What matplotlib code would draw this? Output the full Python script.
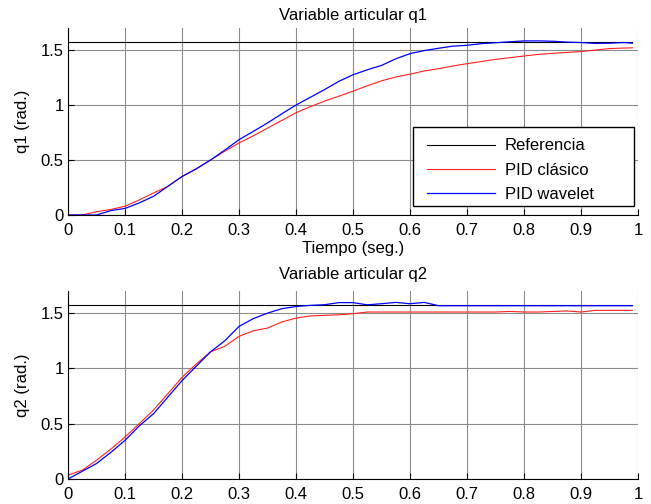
import numpy as np
import matplotlib
matplotlib.use('Agg')
import matplotlib.pyplot as plt
from matplotlib.patches import Rectangle

# Tiempo de muestreo (seg.)
t = [0.0, 0.025, 0.05, 0.075, 0.1, 0.125, 0.15, 0.175, 0.2, 0.225,
     0.25, 0.275, 0.3, 0.325, 0.35, 0.375, 0.4, 0.425, 0.45, 0.475,
     0.5, 0.525, 0.55, 0.575, 0.6, 0.625, 0.65, 0.675, 0.7, 0.725,
     0.75, 0.775, 0.8, 0.825, 0.85, 0.875, 0.9, 0.925, 0.95, 0.975, 0.99]

referencia = 1.5708

# q1
q1_clasico = [0.0, 0.0, 0.03, 0.05, 0.08, 0.137, 0.20, 0.26, 0.35, 0.42,
              0.50, 0.58, 0.655, 0.72, 0.79, 0.86, 0.93, 0.985, 1.035, 1.08,
              1.126, 1.175, 1.22, 1.255, 1.28, 1.31, 1.33, 1.355, 1.376, 1.395,
              1.415, 1.43, 1.446, 1.46, 1.47, 1.478, 1.486, 1.50, 1.513, 1.518, 1.52]
q1_wavelet = [0.0, 0.0, 0.0, 0.04, 0.06, 0.11, 0.17, 0.26, 0.35, 0.42,
              0.50, 0.59, 0.685, 0.76, 0.837, 0.92, 1.0, 1.07, 1.14, 1.215,
              1.275, 1.32, 1.36, 1.42, 1.467, 1.495, 1.516, 1.535, 1.543, 1.558,
              1.566, 1.575, 1.583, 1.583, 1.58, 1.572, 1.568, 1.56, 1.562, 1.568, 1.562]

# q2
q2_clasico = [0.036, 0.08, 0.17, 0.27, 0.38, 0.50, 0.625, 0.77, 0.92, 1.04,
              1.15, 1.20, 1.29, 1.34, 1.365, 1.42, 1.455, 1.475, 1.48, 1.485,
              1.495, 1.51, 1.51, 1.51, 1.51, 1.51, 1.51, 1.51, 1.51, 1.51,
              1.51, 1.515, 1.51, 1.51, 1.515, 1.52, 1.51, 1.525, 1.525, 1.525, 1.525]
q2_wavelet = [0.0, 0.07, 0.14, 0.24, 0.35, 0.48, 0.59, 0.74, 0.89, 1.02,
              1.15, 1.25, 1.38, 1.45, 1.50, 1.54, 1.56, 1.57, 1.576, 1.595,
              1.595, 1.575, 1.585, 1.597, 1.585, 1.597, 1.567, 1.567, 1.567, 1.567,
              1.567, 1.567, 1.567, 1.567, 1.567, 1.567, 1.567, 1.567, 1.567, 1.567, 1.567]

plt.rcParams['font.family'] = ['Liberation Sans', 'DejaVu Sans']
plt.rcParams['font.size'] = 12

fig = plt.figure(figsize=(6.51, 5.04), dpi=100)
ax1 = fig.add_axes([0.1045, 0.5734, 0.8756, 0.371])
ax2 = fig.add_axes([0.1045, 0.0496, 0.8756, 0.373])


def estilo(ax, titulo, ylabel, tpad):
    ax.set_xlim(0, 1)
    ax.set_ylim(0, 1.7)
    ax.set_xticks(np.arange(0, 1.01, 0.1))
    ax.set_xticklabels(['0', '0.1', '0.2', '0.3', '0.4', '0.5', '0.6', '0.7', '0.8', '0.9', '1'])
    ax.set_yticks([0, 0.5, 1, 1.5])
    ax.set_yticklabels(['0', '0.5', '1', '1.5'])
    ax.grid(True, color='#8c8c8c', linewidth=0.8)
    ax.set_axisbelow(True)
    ax.spines['top'].set_visible(False)
    ax.spines['right'].set_visible(False)
    ax.tick_params(direction='in', length=4, width=0.8, labelsize=12)
    ax.tick_params(axis='x', pad=6)
    ax.tick_params(axis='y', pad=3)
    ax.set_title(titulo, fontsize=12, pad=tpad)
    ax.set_ylabel(ylabel, fontsize=12, labelpad=8)


ref = [referencia] * len(t)

ax1.plot(t, ref, color='black', linewidth=0.8, label='Referencia')
ax1.plot(t, q1_clasico, color='#ff2020', linewidth=0.8, label='PID clásico')
ax1.plot(t, q1_wavelet, color='#0000ff', linewidth=0.9, label='PID wavelet')
estilo(ax1, 'Variable articular q1', 'q1 (rad.)', 6)
ax1.set_xlabel('Tiempo (seg.)', fontsize=12, labelpad=2)

# marco de la leyenda (estilo Matlab, más ancho que el texto)
marco = Rectangle((0.605, 0.048), 0.388, 0.422, transform=ax1.transAxes,
                  facecolor='white', edgecolor='black', linewidth=1.0, zorder=4.5)
ax1.add_patch(marco)
leg = ax1.legend(loc='upper left', bbox_to_anchor=(0.63, 0.41), frameon=False,
                 handlelength=4.1, labelspacing=0.56, handletextpad=0.55,
                 borderpad=0, borderaxespad=0, fontsize=12)
leg.set_zorder(5)

ax2.plot(t, ref, color='black', linewidth=0.8)
ax2.plot(t, q2_clasico, color='#ff2020', linewidth=0.8)
ax2.plot(t, q2_wavelet, color='#0000ff', linewidth=0.9)
estilo(ax2, 'Variable articular q2', 'q2 (rad.)', 9)

fig.savefig('out.png', dpi=100)
